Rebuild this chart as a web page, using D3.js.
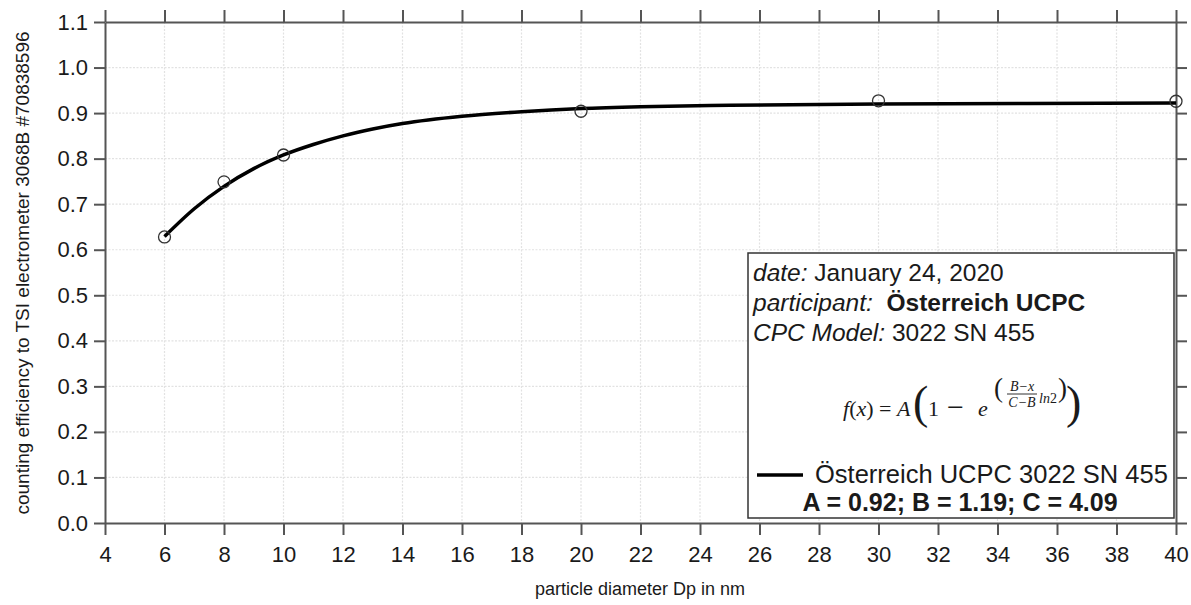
<!DOCTYPE html>
<html>
<head>
<meta charset="utf-8">
<script src="https://cdn.jsdelivr.net/npm/d3@7"></script>
<style>
  html, body { margin: 0; padding: 0; background: #fff; }
  svg { display: block; font-family: "Liberation Sans", Arial, sans-serif; }
</style>
</head>
<body>
<svg id="chart" width="1191" height="605"></svg>
<script>
// ---- data ----
const measuredDiameters = [6, 8, 10, 20, 30, 40];
const measuredEfficiency = [0.628, 0.749, 0.808, 0.904, 0.927, 0.926];
const fitDiameters = [6, 7, 8, 9, 10, 11, 12, 13, 14, 16, 18, 20, 22, 25, 30, 35, 40];
const fitEfficiency = [0.629, 0.690, 0.739, 0.778, 0.808, 0.831, 0.850, 0.865, 0.877, 0.893, 0.903, 0.910, 0.914, 0.917, 0.920, 0.921, 0.922];
const xTicks = [4, 6, 8, 10, 12, 14, 16, 18, 20, 22, 24, 26, 28, 30, 32, 34, 36, 38, 40];
const yTicks = [0.0, 0.1, 0.2, 0.3, 0.4, 0.5, 0.6, 0.7, 0.8, 0.9, 1.0, 1.1];
const infoLines = [
  { label: "date:", value: " January 24, 2020", bold: false },
  { label: "participant:", value: "  Österreich UCPC", bold: true },
  { label: "CPC Model:", value: " 3022 SN 455", bold: false }
];
const seriesName = "Österreich UCPC 3022 SN 455";
const fitParams = "A = 0.92; B = 1.19; C = 4.09";

(function () {
// ---- layout ----
const svg = d3.select("#chart");
const L = 105, R = 1176, T = 22, B = 523;
const x = d3.scaleLinear().domain([4, 40]).range([L, R]);
const y = d3.scaleLinear().domain([0, 1.1]).range([B, T]);
const axisColor = "#555";
const textColor = "#1a1a1a";

// grid
const grid = svg.append("g");
grid.selectAll(".gx").data(xTicks.slice(1, -1)).enter().append("line")
  .attr("x1", d => x(d)).attr("x2", d => x(d)).attr("y1", T).attr("y2", B)
  .attr("stroke", "#e2e2e2").attr("stroke-width", 1.2).attr("stroke-dasharray", "2,1.5");
grid.selectAll(".gy").data(yTicks.slice(1, -1)).enter().append("line")
  .attr("y1", d => y(d)).attr("y2", d => y(d)).attr("x1", L).attr("x2", R)
  .attr("stroke", "#e2e2e2").attr("stroke-width", 1.2).attr("stroke-dasharray", "2,1.5");

// axes
function styleAxis(g, showLabels) {
  g.select(".domain").attr("stroke", axisColor).attr("stroke-width", 2);
  g.selectAll(".tick line").attr("stroke", axisColor).attr("stroke-width", 2);
  g.selectAll(".tick text").attr("fill", textColor).style("font-size", "22px")
    .style("font-family", "'Liberation Sans', Arial, sans-serif");
  if (!showLabels) g.selectAll(".tick text").remove();
}
const axB = svg.append("g").attr("transform", `translate(0,${B})`)
  .call(d3.axisBottom(x).tickValues(xTicks).tickSize(12).tickPadding(11).tickSizeOuter(0).tickFormat(d3.format("d")));
styleAxis(axB, true);
const axT = svg.append("g").attr("transform", `translate(0,${T})`)
  .call(d3.axisTop(x).tickValues(xTicks).tickSize(12).tickSizeOuter(0));
styleAxis(axT, false);
const axL = svg.append("g").attr("transform", `translate(${L},0)`)
  .call(d3.axisLeft(y).tickValues(yTicks).tickSize(11).tickPadding(6).tickSizeOuter(0).tickFormat(d3.format(".1f")));
styleAxis(axL, true);
const axR = svg.append("g").attr("transform", `translate(${R},0)`)
  .call(d3.axisRight(y).tickValues(yTicks).tickSize(11).tickSizeOuter(0));
styleAxis(axR, false);

// axis titles
svg.append("text").attr("x", 640).attr("y", 595).attr("text-anchor", "middle")
  .attr("fill", textColor).style("font-size", "18px").text("particle diameter Dp in nm");
svg.append("text").attr("transform", `translate(29,273) rotate(-90)`).attr("text-anchor", "middle")
  .attr("fill", textColor).style("font-size", "19px").text("counting efficiency to TSI electrometer 3068B #70838596");

// fit curve
const line = d3.line().x((d, i) => x(fitDiameters[i])).y(d => y(d)).curve(d3.curveMonotoneX);
svg.append("path").datum(fitEfficiency).attr("d", line)
  .attr("fill", "none").attr("stroke", "#000").attr("stroke-width", 3.5);

// measured points
svg.selectAll(".pt").data(measuredEfficiency).enter().append("circle")
  .attr("cx", (d, i) => x(measuredDiameters[i])).attr("cy", d => y(d)).attr("r", 6)
  .attr("fill", "none").attr("stroke", "#333").attr("stroke-width", 1.3);

// legend box
const lg = svg.append("g");
lg.append("rect").attr("x", 748).attr("y", 253).attr("width", 426).attr("height", 265)
  .attr("fill", "#fff").attr("stroke", "#333").attr("stroke-width", 1.5);
infoLines.forEach((ln, i) => {
  const t = lg.append("text").attr("x", 753).attr("y", 281 + i * 30)
    .attr("fill", textColor).style("font-size", "24.5px").style("white-space", "pre");
  t.append("tspan").style("font-style", "italic").text(ln.label);
  t.append("tspan").style("font-weight", ln.bold ? "bold" : "normal").text(ln.value);
});

// formula
const fm = lg.append("g").attr("fill", textColor)
  .style("font-family", "'Liberation Serif', 'Times New Roman', serif");
fm.append("text").attr("x", 843).attr("y", 416).style("font-size", "22px")
  .html('<tspan font-style="italic">f</tspan>(<tspan font-style="italic">x</tspan>) = <tspan font-style="italic">A</tspan>');
fm.append("text").attr("x", 913).attr("y", 418).style("font-size", "46px").text("(");
fm.append("text").attr("x", 928).attr("y", 416).style("font-size", "22px").text("1");
fm.append("text").attr("x", 947).attr("y", 417).style("font-size", "30px").text("−");
fm.append("text").attr("x", 978).attr("y", 416).style("font-size", "22px").style("font-style", "italic").text("e");
fm.append("text").attr("x", 994).attr("y", 397).style("font-size", "27px").text("(");
fm.append("text").attr("x", 1022).attr("y", 391).attr("text-anchor", "middle").style("font-size", "14px")
  .style("font-style", "italic").text("B−x");
fm.append("line").attr("x1", 1007).attr("x2", 1037).attr("y1", 394).attr("y2", 394).attr("stroke", textColor).attr("stroke-width", 0.9);
fm.append("text").attr("x", 1022).attr("y", 407).attr("text-anchor", "middle").style("font-size", "14px")
  .style("font-style", "italic").text("C−B");
fm.append("text").attr("x", 1039).attr("y", 403).style("font-size", "14px")
  .html('<tspan font-style="italic">ln</tspan>2');
fm.append("text").attr("x", 1058).attr("y", 397).style("font-size", "27px").text(")");
fm.append("text").attr("x", 1066).attr("y", 418).style("font-size", "46px").text(")");

// series legend
lg.append("line").attr("x1", 757).attr("x2", 803).attr("y1", 475).attr("y2", 475)
  .attr("stroke", "#000").attr("stroke-width", 3.5);
lg.append("text").attr("x", 815).attr("y", 483).attr("fill", textColor).style("font-size", "25.5px").text(seriesName);
lg.append("text").attr("x", 960).attr("y", 511).attr("text-anchor", "middle").attr("fill", textColor)
  .style("font-size", "25px").style("font-weight", "bold").text(fitParams);
})();
</script>
</body>
</html>
